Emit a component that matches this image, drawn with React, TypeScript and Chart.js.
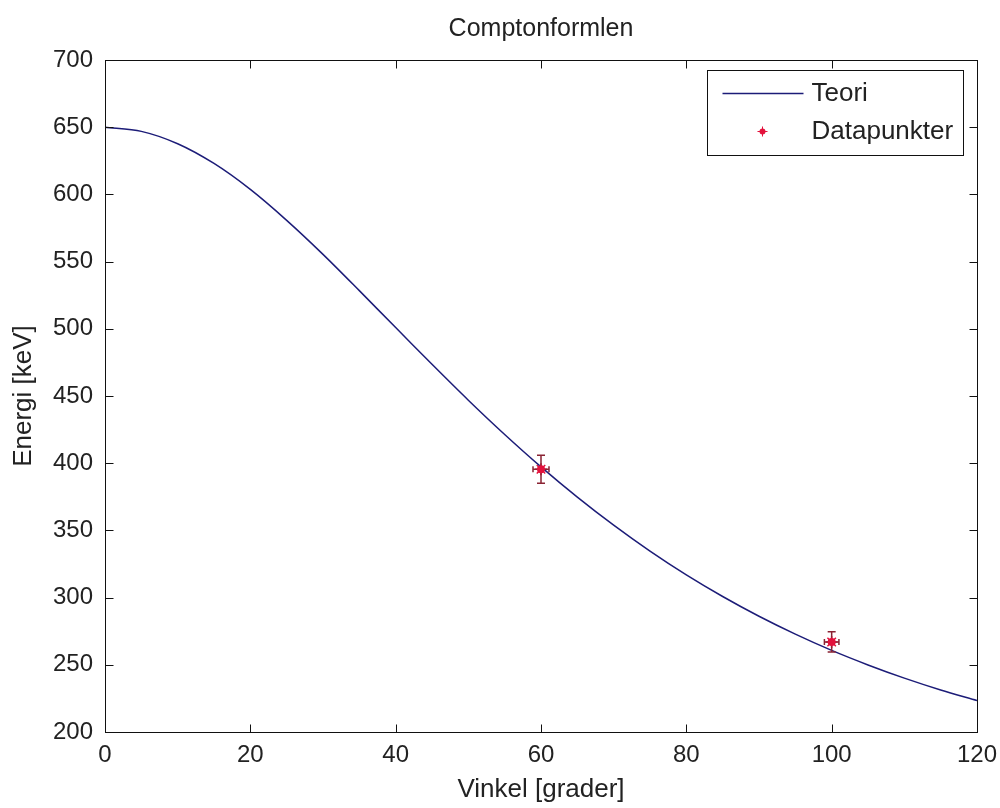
import React, { useEffect, useRef } from "react";
import { Chart, registerables } from "chart.js";

Chart.register(...registerables);

const TITLE = "Comptonformlen";
const X_LABEL = "Vinkel [grader]";
const Y_LABEL = "Energi [keV]";
const THEORY_LABEL = "Teori";
const DATA_LABEL = "Datapunkter";

const theoryAngles = [0, 5, 10, 15, 20, 25, 30, 35, 40, 45, 50, 55, 60, 65, 70, 75, 80, 85, 90, 95, 100, 105, 110, 115, 120];
const theoryEnergy = [650, 646.9, 637.7, 623.0, 603.7, 580.7, 555.4, 528.4, 500.9, 473.6, 446.9, 421.4, 397.3, 374.8, 353.9, 334.6, 316.9, 300.8, 286.1, 272.8, 260.7, 249.9, 240.1, 231.3, 223.5];

const dataAngles = [60, 100];
const dataEnergy = [395.5, 267];
const dataEnergyErr = [10.5, 7.5];
const dataAngleErr = [1.1, 1];

const xTicks = [0, 20, 40, 60, 80, 100, 120];
const yTicks = [200, 250, 300, 350, 400, 450, 500, 550, 600, 650, 700];

const FONT = '"Liberation Sans", Arial, sans-serif';
const TEXT_COLOR = "#222";
const LINE_COLOR = "#1c1c78";
const MARK_COLOR = "#e3123c";
const ERR_COLOR = "#8a2333";

const framePlugin = {
  id: "frame",
  afterDatasetsDraw(chart: any) {
    const { ctx, chartArea: a, scales } = chart;
    const x = scales.x;
    const y = scales.y;
    ctx.save();
    // error bars
    ctx.strokeStyle = ERR_COLOR;
    ctx.lineWidth = 1.5;
    for (let i = 0; i < dataAngles.length; i++) {
      const px = x.getPixelForValue(dataAngles[i]);
      const py = y.getPixelForValue(dataEnergy[i]);
      const yt = y.getPixelForValue(dataEnergy[i] + dataEnergyErr[i]);
      const yb = y.getPixelForValue(dataEnergy[i] - dataEnergyErr[i]);
      const xl = x.getPixelForValue(dataAngles[i] - dataAngleErr[i]);
      const xr = x.getPixelForValue(dataAngles[i] + dataAngleErr[i]);
      ctx.beginPath();
      ctx.moveTo(px, yt); ctx.lineTo(px, yb);
      ctx.moveTo(px - 4, yt); ctx.lineTo(px + 4, yt);
      ctx.moveTo(px - 4, yb); ctx.lineTo(px + 4, yb);
      ctx.moveTo(xl, py); ctx.lineTo(xr, py);
      ctx.moveTo(xl, py - 3); ctx.lineTo(xl, py + 3);
      ctx.moveTo(xr, py - 3); ctx.lineTo(xr, py + 3);
      ctx.stroke();
      ctx.fillStyle = MARK_COLOR;
      ctx.beginPath();
      ctx.arc(px, py, 4, 0, Math.PI * 2);
      ctx.fill();
    }
    // frame
    const L = Math.round(a.left) + 0.5;
    const R = Math.round(a.right) + 0.5;
    const T = Math.round(a.top) + 0.5;
    const B = Math.round(a.bottom) + 0.5;
    ctx.strokeStyle = "#111";
    ctx.lineWidth = 1;
    ctx.strokeRect(L, T, R - L, B - T);
    const tl = 8;
    ctx.beginPath();
    for (const v of xTicks) {
      const px = Math.round(x.getPixelForValue(v)) + 0.5;
      ctx.moveTo(px, B); ctx.lineTo(px, B - tl);
      ctx.moveTo(px, T); ctx.lineTo(px, T + tl);
    }
    for (const v of yTicks) {
      const py = Math.round(y.getPixelForValue(v)) + 0.5;
      ctx.moveTo(L, py); ctx.lineTo(L + tl, py);
      ctx.moveTo(R, py); ctx.lineTo(R - tl, py);
    }
    ctx.stroke();
    // title
    ctx.fillStyle = TEXT_COLOR;
    ctx.font = `25px ${FONT}`;
    ctx.textAlign = "center";
    ctx.textBaseline = "middle";
    ctx.fillText(TITLE, (a.left + a.right) / 2, 29);
    // legend
    const lw = 256, lh = 85;
    const lx = Math.round(a.right - 14 - lw) + 0.5;
    const ly = Math.round(a.top + 10) + 0.5;
    ctx.fillStyle = "#fff";
    ctx.fillRect(lx, ly, lw, lh);
    ctx.strokeStyle = "#111";
    ctx.lineWidth = 1;
    ctx.strokeRect(lx, ly, lw, lh);
    const r1 = ly + 23, r2 = ly + 61;
    ctx.strokeStyle = LINE_COLOR;
    ctx.lineWidth = 1.5;
    ctx.beginPath();
    ctx.moveTo(lx + 15, r1); ctx.lineTo(lx + 96, r1);
    ctx.stroke();
    ctx.fillStyle = MARK_COLOR;
    ctx.beginPath();
    ctx.arc(lx + 55, r2, 3, 0, Math.PI * 2);
    ctx.fill();
    ctx.strokeStyle = MARK_COLOR;
    ctx.lineWidth = 1;
    ctx.beginPath();
    ctx.moveTo(lx + 50, r2); ctx.lineTo(lx + 60, r2);
    ctx.moveTo(lx + 55, r2 - 5); ctx.lineTo(lx + 55, r2 + 5);
    ctx.stroke();
    ctx.fillStyle = TEXT_COLOR;
    ctx.font = `26px ${FONT}`;
    ctx.textAlign = "left";
    ctx.fillText(THEORY_LABEL, lx + 104, r1);
    ctx.fillText(DATA_LABEL, lx + 104, r2);
    ctx.restore();
  },
};

export default function App() {
  const ref = useRef<HTMLCanvasElement | null>(null);
  useEffect(() => {
    document.body.style.margin = "0";
    const canvas = ref.current;
    if (!canvas) return;
    const chart = new Chart(canvas, {
      type: "scatter",
      data: {
        datasets: [
          {
            type: "line",
            label: THEORY_LABEL,
            data: theoryAngles.map((a, i) => ({ x: a, y: theoryEnergy[i] })),
            borderColor: LINE_COLOR,
            borderWidth: 1.5,
            pointRadius: 0,
            tension: 0.3,
            fill: false,
          } as any,
          {
            type: "scatter",
            label: DATA_LABEL,
            data: dataAngles.map((a, i) => ({ x: a, y: dataEnergy[i] })),
            pointStyle: "star",
            pointRadius: 6,
            borderColor: MARK_COLOR,
            backgroundColor: MARK_COLOR,
            borderWidth: 1.5,
          },
        ],
      },
      options: {
        animation: false,
        responsive: true,
        maintainAspectRatio: false,
        layout: { padding: { top: 60, right: 23, left: 0, bottom: 0 } },
        plugins: {
          legend: { display: false },
          title: { display: false },
          tooltip: { enabled: false },
        },
        scales: {
          x: {
            type: "linear",
            min: 0,
            max: 120,
            afterBuildTicks: (s: any) => { s.ticks = xTicks.map((v) => ({ value: v })); },
            afterFit: (s: any) => { s.height = 76; s.paddingLeft = 0; s.paddingRight = 0; },
            grid: { display: false, drawTicks: false },
            border: { display: false },
            ticks: { color: TEXT_COLOR, font: { family: FONT, size: 24 }, padding: 9, maxRotation: 0 },
            title: { display: true, text: X_LABEL, color: TEXT_COLOR, font: { family: FONT, size: 26 }, padding: { top: 0, bottom: 3 } },
          },
          y: {
            type: "linear",
            min: 200,
            max: 700,
            afterBuildTicks: (s: any) => { s.ticks = yTicks.map((v) => ({ value: v })); },
            afterFit: (s: any) => { s.width = 105; s.paddingTop = 0; s.paddingBottom = 0; },
            grid: { display: false, drawTicks: false },
            border: { display: false },
            ticks: { color: TEXT_COLOR, font: { family: FONT, size: 24 }, padding: 12 },
            title: { display: true, text: Y_LABEL, color: TEXT_COLOR, font: { family: FONT, size: 26 }, padding: { top: 8, bottom: 0 } },
          },
        },
      },
      plugins: [framePlugin],
    });
    return () => chart.destroy();
  }, []);
  return (
    <div style={{ width: 1000, height: 808, position: "relative", background: "#fff" }}>
      <canvas ref={ref} />
    </div>
  );
}
